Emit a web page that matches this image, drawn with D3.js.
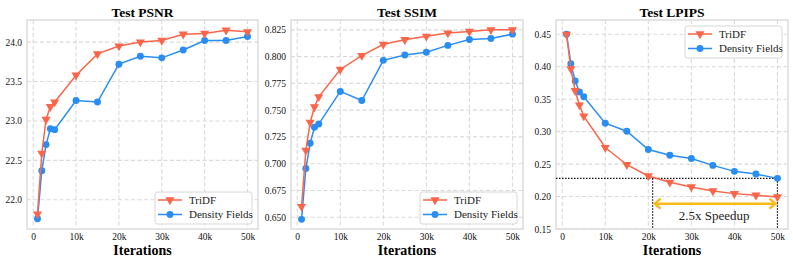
<!DOCTYPE html>
<html>
<head>
<meta charset="utf-8">
<script src="https://cdn.jsdelivr.net/npm/d3@7"></script>
<style>
  body { margin: 0; background: #fff; }
</style>
</head>
<body>
<div id="chart"></div>
<script>
// iterations (shared by all three plots)
const iterations = [1000, 2000, 3000, 4000, 5000, 10000, 15000, 20000, 25000, 30000, 35000, 40000, 45000, 50000];
const xTicks = [0, 10000, 20000, 30000, 40000, 50000];

// Test PSNR
const psnrTriDF   = [21.82, 22.59, 23.02, 23.18, 23.24, 23.58, 23.85, 23.95, 24.00, 24.02, 24.10, 24.11, 24.15, 24.13];
const psnrDensity = [21.76, 22.37, 22.70, 22.90, 22.89, 23.26, 23.24, 23.72, 23.82, 23.80, 23.90, 24.02, 24.02, 24.07];
const psnrTicks   = [22.0, 22.5, 23.0, 23.5, 24.0];

// Test SSIM
const ssimTriDF   = [0.660, 0.7125, 0.7385, 0.753, 0.7625, 0.788, 0.801, 0.8115, 0.8158, 0.819, 0.822, 0.8235, 0.825, 0.825];
const ssimDensity = [0.648, 0.6955, 0.719, 0.734, 0.737, 0.7675, 0.759, 0.7965, 0.8015, 0.804, 0.8105, 0.816, 0.817, 0.821];
const ssimTicks   = [0.650, 0.675, 0.700, 0.725, 0.750, 0.775, 0.800, 0.825];

// Test LPIPS
const lpipsTriDF   = [0.450, 0.3965, 0.363, 0.341, 0.324, 0.2755, 0.249, 0.2317, 0.222, 0.2148, 0.2086, 0.2045, 0.202, 0.1994];
const lpipsDensity = [0.450, 0.4047, 0.378, 0.361, 0.3537, 0.313, 0.3007, 0.2725, 0.2636, 0.2585, 0.248, 0.2388, 0.2346, 0.228];
const lpipsTicks   = [0.15, 0.20, 0.25, 0.30, 0.35, 0.40, 0.45];

// speedup annotation (LPIPS plot)
const speedupLevel = 0.228;
const speedupFrom = 21000, speedupTo = 50000;
const speedupArrowY = 0.189;
const speedupLabel = "2.5x Speedup";

const seriesNames = ["TriDF", "Density Fields"];
const colors = { "TriDF": "#fb6549", "Density Fields": "#2a8df2" };

const panels = [
    { title: "Test PSNR", left: 27, right: 258, y: [21.63, 24.28], ticks: psnrTicks, fmt: d3.format(".1f"),
      series: [psnrTriDF, psnrDensity], legend: "bottom" },
    { title: "Test SSIM", left: 291, right: 523, y: [0.639, 0.8342], ticks: ssimTicks, fmt: d3.format(".3f"),
      series: [ssimTriDF, ssimDensity], legend: "bottom" },
    { title: "Test LPIPS", left: 556, right: 788, y: [0.15, 0.472], ticks: lpipsTicks, fmt: d3.format(".2f"),
      series: [lpipsTriDF, lpipsDensity], legend: "top", speedup: true }
];

const W = 793, H = 264, plotTop = 20, plotBottom = 229;
const serif = "'Liberation Serif', 'Times New Roman', Times, serif";

const svg = d3.select("#chart").append("svg")
    .attr("width", W)
    .attr("height", H);

// marker shapes
const tri = d3.symbol().type(d3.symbolTriangle).size(36);
const circ = d3.symbol().type(d3.symbolCircle).size(38);

function drawMarker(g, name, x, y) {
    if (name === "TriDF") {
        g.append("path").attr("d", tri())
            .attr("transform", "translate(" + x + "," + y + ") rotate(180)")
            .attr("fill", colors[name]);
    } else {
        g.append("path").attr("d", circ())
            .attr("transform", "translate(" + x + "," + y + ")")
            .attr("fill", colors[name]);
    }
}

panels.forEach(p => {
    const g = svg.append("g");

    const x = d3.scaleLinear().domain([-1450, 52450]).range([p.left, p.right]);
    const y = d3.scaleLinear().domain(p.y).range([plotBottom, plotTop]);

    // grid
    g.append("g").selectAll("line").data(xTicks).enter().append("line")
        .attr("x1", d => x(d)).attr("x2", d => x(d))
        .attr("y1", plotTop).attr("y2", plotBottom)
        .attr("stroke", "#d9d9d9").attr("stroke-width", 1.1).attr("stroke-dasharray", "4,2.5");
    g.append("g").selectAll("line").data(p.ticks).enter().append("line")
        .attr("x1", p.left).attr("x2", p.right)
        .attr("y1", d => y(d)).attr("y2", d => y(d))
        .attr("stroke", "#d9d9d9").attr("stroke-width", 1.1).attr("stroke-dasharray", "4,2.5");

    // axes via d3 axis, domain hidden (frame drawn below)
    const xAxis = g.append("g").attr("transform", "translate(0," + plotBottom + ")")
        .call(d3.axisBottom(x).tickValues(xTicks).tickSize(0).tickPadding(4)
            .tickFormat(d => d === 0 ? "0" : (d / 1000) + "k"));
    const yAxis = g.append("g").attr("transform", "translate(" + p.left + ",0)")
        .call(d3.axisLeft(y).tickValues(p.ticks).tickSize(0).tickPadding(5).tickFormat(p.fmt));
    [xAxis, yAxis].forEach(a => {
        a.attr("font-family", null).attr("font-size", null);
        a.select(".domain").remove();
        a.selectAll("text").style("font-family", serif)
            .style("font-size", "9.5px").attr("fill", "#111");
    });

    // frame
    g.append("rect")
        .attr("x", p.left).attr("y", plotTop)
        .attr("width", p.right - p.left).attr("height", plotBottom - plotTop)
        .attr("fill", "none").attr("stroke", "#dcdcdc").attr("stroke-width", 1.5);

    // titles
    g.append("text")
        .attr("x", (p.left + p.right) / 2).attr("y", 17)
        .attr("text-anchor", "middle")
        .style("font-family", serif).style("font-size", "13.5px").style("font-weight", "bold")
        .text(p.title);
    g.append("text")
        .attr("x", (p.left + p.right) / 2).attr("y", 255)
        .attr("text-anchor", "middle")
        .style("font-family", serif).style("font-size", "14px").style("font-weight", "bold")
        .text("Iterations");

    // speedup annotation (drawn below the lines)
    if (p.speedup) {
        const dotted = { stroke: "#111", "stroke-width": 1.2, "stroke-dasharray": "1.5,1.5" };
        const lines = [
            [p.left, y(speedupLevel), x(speedupTo), y(speedupLevel)],
            [x(speedupFrom), y(speedupLevel), x(speedupFrom), plotBottom],
            [x(speedupTo), y(speedupLevel), x(speedupTo), plotBottom]
        ];
        lines.forEach(l => {
            const ln = g.append("line").attr("x1", l[0]).attr("y1", l[1]).attr("x2", l[2]).attr("y2", l[3]);
            Object.entries(dotted).forEach(([k, v]) => ln.attr(k, v));
        });

        const ay = y(speedupArrowY), ax1 = x(speedupFrom) + 1, ax2 = x(speedupTo) - 1;
        const gold = "#fbb918";
        g.append("line").attr("x1", ax1 + 3).attr("x2", ax2 - 3).attr("y1", ay).attr("y2", ay)
            .attr("stroke", gold).attr("stroke-width", 2.4);
        g.append("path")
            .attr("d", "M" + (ax1 + 7) + "," + (ay - 5) + " L" + (ax1 + 1) + "," + ay + " L" + (ax1 + 7) + "," + (ay + 5))
            .attr("fill", "none").attr("stroke", gold).attr("stroke-width", 2.4);
        g.append("path")
            .attr("d", "M" + (ax2 - 7) + "," + (ay - 5) + " L" + (ax2 - 1) + "," + ay + " L" + (ax2 - 7) + "," + (ay + 5))
            .attr("fill", "none").attr("stroke", gold).attr("stroke-width", 2.4);
        g.append("text")
            .attr("x", x(35300)).attr("y", y(0.171) + 4.5)
            .attr("text-anchor", "middle")
            .style("font-family", serif).style("font-size", "13px").attr("fill", "#222")
            .text(speedupLabel);
    }

    // series lines + markers
    const line = d3.line().x((d, i) => x(iterations[i])).y(d => y(d));
    // draw Density Fields first so TriDF sits on top where they overlap at start
    [1, 0].forEach(si => {
        const name = seriesNames[si];
        const vals = p.series[si];
        g.append("path").datum(vals)
            .attr("d", line)
            .attr("fill", "none").attr("stroke", colors[name]).attr("stroke-width", 1.5);
        const mg = g.append("g");
        vals.forEach((v, i) => drawMarker(mg, name, x(iterations[i]), y(v)));
    });

    // legend
    const lw = 97, lh = 32;
    const lx = p.right - lw - 6;
    const ly = p.legend === "bottom" ? plotBottom - lh - 5 : plotTop + 6;
    const lg = g.append("g").attr("transform", "translate(" + lx + "," + ly + ")");
    lg.append("rect").attr("width", lw).attr("height", lh).attr("rx", 2.5)
        .attr("fill", "rgba(255,255,255,0.85)").attr("stroke", "#d6d6d6").attr("stroke-width", 1);
    seriesNames.forEach((name, i) => {
        const ey = 8 + i * 14.5;
        lg.append("line").attr("x1", 3).attr("x2", 27).attr("y1", ey).attr("y2", ey)
            .attr("stroke", colors[name]).attr("stroke-width", 1.5);
        drawMarker(lg, name, 15, ey);
        lg.append("text").attr("x", 34).attr("y", ey + 3.8)
            .style("font-family", serif).style("font-size", "11px").attr("fill", "#222").text(name);
    });
});
</script>
</body>
</html>
